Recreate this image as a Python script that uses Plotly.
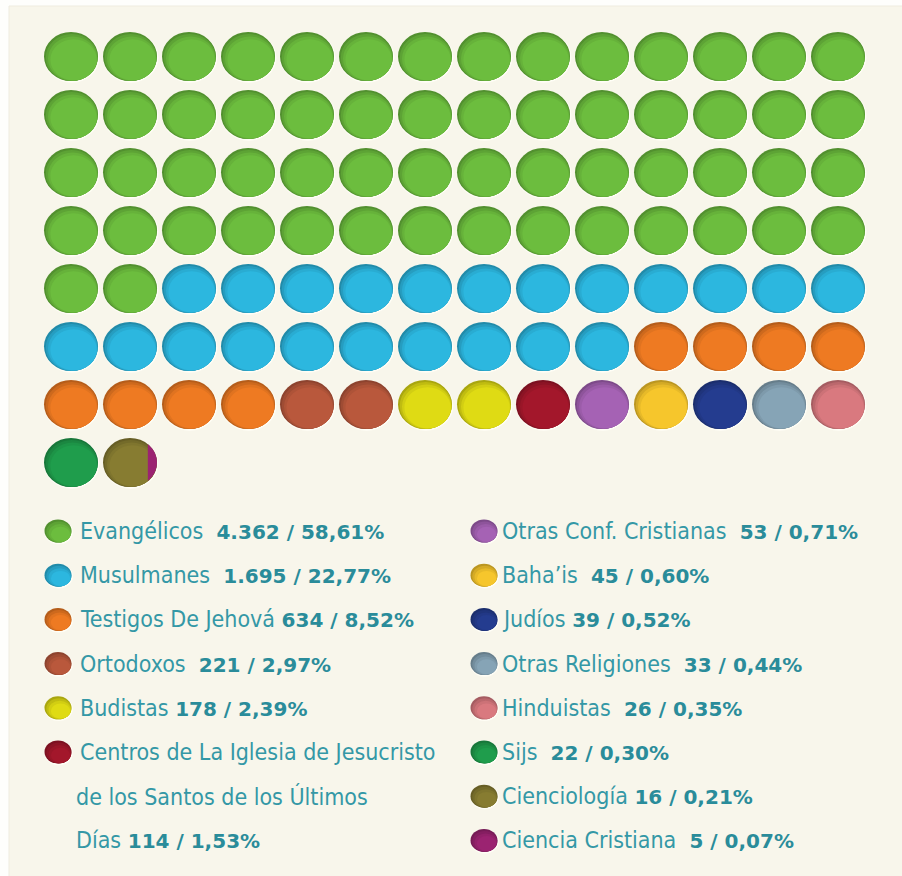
import math
import plotly.graph_objects as go

# ---- data -------------------------------------------------------------
categories = [
    "Evangélicos", "Musulmanes", "Testigos De Jehová", "Ortodoxos", "Budistas",
    "Centros de La Iglesia de Jesucristo de los Santos de los Últimos Días",
    "Otras Conf. Cristianas", "Baha’is", "Judíos", "Otras Religiones",
    "Hinduistas", "Sijs", "Cienciología", "Ciencia Cristiana",
]
counts = [4362, 1695, 634, 221, 178, 114, 53, 45, 39, 33, 26, 22, 16, 5]
percents = [58.61, 22.77, 8.52, 2.97, 2.39, 1.53, 0.71, 0.60, 0.52, 0.44,
            0.35, 0.30, 0.21, 0.07]
# number of dots each group fills in the 14-wide dot grid
cells = [58, 22, 8, 2, 2, 1, 1, 1, 1, 1, 1, 1, 0.83, 0.17]
colors = [
    "#6cbd3e", "#2cb7df", "#ee7a22", "#b9583c", "#dfdb14", "#a3172b",
    "#a562b4", "#f6c62c", "#243c8f", "#86a4b6", "#d9797f", "#1f9d4c",
    "#877c31", "#9b2371",
]
# legend: column (0 left, 1 right), row, and lines of the label
legend_col = [0, 0, 0, 0, 0, 0, 1, 1, 1, 1, 1, 1, 1, 1]
legend_row = [0, 1, 2, 3, 4, 5, 0, 1, 2, 3, 4, 5, 6, 7]
legend_lines = [
    ["Evangélicos"], ["Musulmanes"], ["Testigos De Jehová"], ["Ortodoxos"],
    ["Budistas"],
    ["Centros de La Iglesia de Jesucristo", "de los Santos de los Últimos", "Días"],
    ["Otras Conf. Cristianas"], ["Baha’is"], ["Judíos"], ["Otras Religiones"],
    ["Hinduistas"], ["Sijs"], ["Cienciología"], ["Ciencia Cristiana"],
]
legend_gap = [2, 2, 1, 2, 1, 1, 2, 2, 1, 2, 2, 2, 1, 2]

# ---- layout constants ---------------------------------------------------
W, H = 902, 876
NCOL = 14
X0, DX = 71, 59.0
Y0, DY = 56.5, 58.0
RX, RY = 27.0, 24.5
LEG_X = [58, 484]
LEG_TX = [78, 500]
LEG_WRAP_TX = 74
LEG_Y0, LEG_DY = 531, 44.2
LEG_RX, LEG_RY = 13.5, 11.5
NAME_COLOR = "#3498a6"
NUM_COLOR = "#2a8c9a"
NAME_FONT = "DejaVu Sans Condensed, Liberation Sans Narrow, sans-serif"

shapes = []


def mix(c, t, a):
    c = c.lstrip("#"); t = t.lstrip("#")
    rgb = [int(c[i:i + 2], 16) for i in (0, 2, 4)]
    tg = [int(t[i:i + 2], 16) for i in (0, 2, 4)]
    return "#" + "".join(f"{round(v + (w - v) * a):02x}" for v, w in zip(rgb, tg))


def ellipse(cx, cy, rx, ry, fill):
    shapes.append(dict(type="circle", xref="x", yref="y",
                       x0=cx - rx, x1=cx + rx, y0=cy - ry, y1=cy + ry,
                       fillcolor=fill, line=dict(width=0), layer="above"))


def shaded_dot(cx, cy, rx, ry, color):
    # pale rim bottom-right, dark inset top-left, brighter body
    ellipse(cx + 0.7, cy + 1.0, rx + 0.7, ry + 0.7, "#fffef6")
    ellipse(cx, cy, rx, ry, mix(color, "#000000", 0.24))
    ellipse(cx + 0.8, cy + 1.0, rx - 1.0, ry - 1.0, mix(color, "#000000", 0.14))
    ellipse(cx + 1.7, cy + 2.1, rx - 2.3, ry - 2.4, mix(color, "#000000", 0.06))
    ellipse(cx + 2.6, cy + 3.2, rx - 3.8, ry - 4.0, color)


def segment_path(cx, cy, rx, ry, a, b, n=40):
    # part of the ellipse between fractions a..b of its width
    xl, xr = cx - rx + 2 * rx * a, cx - rx + 2 * rx * b
    pts = []
    for i in range(n + 1):
        x = xl + (xr - xl) * i / n
        u = max(0.0, 1 - ((x - cx) / rx) ** 2)
        pts.append((x, cy - ry * math.sqrt(u)))
    for i in range(n, -1, -1):
        x = xl + (xr - xl) * i / n
        u = max(0.0, 1 - ((x - cx) / rx) ** 2)
        pts.append((x, cy + ry * math.sqrt(u)))
    return "M " + " L ".join(f"{x:.2f},{y:.2f}" for x, y in pts) + " Z"


# panel background
shapes.append(dict(type="rect", xref="x", yref="y", x0=9, x1=W + 2, y0=6, y1=H + 2,
                   fillcolor="#f8f6eb", line=dict(color="#efece0", width=1),
                   layer="below"))

# ---- dot grid -----------------------------------------------------------
pos = 0.0
for cat, u, col in zip(categories, cells, colors):
    start, end = pos, pos + u
    k = int(start + 1e-9)
    while k < end - 1e-9:
        a = max(0.0, start - k)
        b = min(1.0, end - k)
        cx = X0 + (k % NCOL) * DX
        cy = Y0 + (k // NCOL) * DY
        if a < 1e-9:
            shaded_dot(cx, cy, RX, RY, col)
        else:
            shapes.append(dict(type="path", xref="x", yref="y",
                               path=segment_path(cx, cy, RX, RY, a, b),
                               fillcolor=col, line=dict(width=0), layer="above"))
        k += 1
    pos = end

# ---- legend -------------------------------------------------------------
annotations = []


def fmt_count(v):
    return f"{v:,}".replace(",", ".")


def fmt_pct(v):
    return f"{v:.2f}".replace(".", ",") + "%"


for i, cat in enumerate(categories):
    lx = LEG_X[legend_col[i]]
    ly = LEG_Y0 + legend_row[i] * LEG_DY
    shaded_dot(lx, ly, LEG_RX, LEG_RY, colors[i])
    lines = legend_lines[i]
    for j, line in enumerate(lines):
        txt = line
        if j == len(lines) - 1:
            txt += "&nbsp;" * legend_gap[i] + (
                f'<span style="font-family:DejaVu Sans;font-size:20px;'
                f'font-weight:bold;fill:{NUM_COLOR}">'
                f"{fmt_count(counts[i])} / {fmt_pct(percents[i])}</span>")
        tx = LEG_TX[legend_col[i]] if j == 0 else LEG_WRAP_TX
        annotations.append(dict(
            x=tx, y=ly + j * LEG_DY,
            xref="x", yref="y", xanchor="left", yanchor="middle",
            text=txt, showarrow=False,
            font=dict(family=NAME_FONT, size=23, color=NAME_COLOR)))

fig = go.Figure()
fig.update_layout(
    width=W, height=H, margin=dict(l=0, r=0, t=0, b=0),
    paper_bgcolor="#fefefc", plot_bgcolor="#fefefc",
    xaxis=dict(range=[0, W], visible=False, fixedrange=True),
    yaxis=dict(range=[H, 0], visible=False, fixedrange=True),
    shapes=shapes, annotations=annotations, showlegend=False,
)
fig.write_html("out.html")
